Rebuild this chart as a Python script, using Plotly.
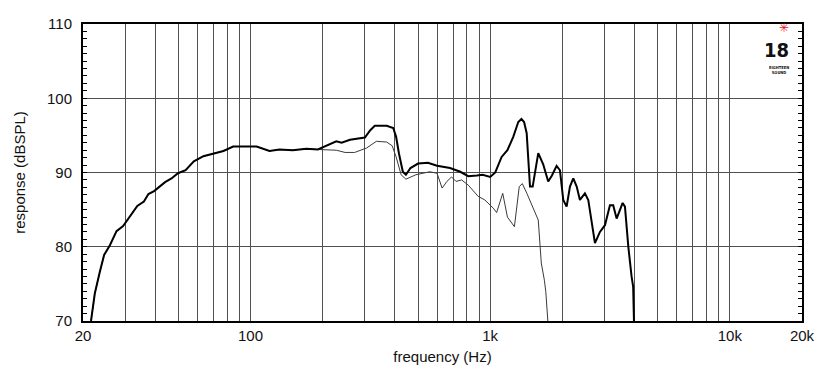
import plotly.graph_objects as go

# Thick curve (on-axis response)
freq_a = [21.6, 22.4, 23.5, 24.5, 25.9, 27.6, 29.4, 31.0, 33.7, 35.9, 37.5, 39.6, 44.0, 46.8,
          49.8, 53.6, 58.0, 63.6, 70.0, 77.1, 84.6, 93.3, 106, 120, 132, 150, 171, 191, 211,
          228, 240, 260, 300, 316, 330, 370, 394, 405, 416, 432, 445, 465, 500, 550, 600, 680,
          750, 810, 880, 930, 1000, 1050, 1116, 1180, 1248, 1310, 1350, 1385, 1420, 1466,
          1504, 1587, 1664, 1746, 1810, 1893, 1955, 2018, 2084, 2152, 2222, 2296, 2368, 2485,
          2566, 2736, 2870, 3012, 3160, 3260, 3370, 3570, 3650, 3770, 3890, 3950, 3980]
spl_a = [70.0, 73.7, 76.6, 78.9, 80.2, 82.1, 82.8, 83.8, 85.5, 86.1, 87.1, 87.5, 88.7, 89.2,
         89.9, 90.3, 91.5, 92.2, 92.6, 92.9, 93.5, 93.5, 93.5, 92.9, 93.1, 93.0, 93.2, 93.1, 93.7,
         94.2, 94.0, 94.4, 94.7, 95.7, 96.3, 96.3, 96.0, 94.8, 92.6, 90.1, 89.7, 90.6, 91.2, 91.3,
         90.9, 90.6, 90.1, 89.5, 89.6, 89.7, 89.4, 90.0, 92.1, 93.0, 94.8, 96.8, 97.2, 96.8, 95.3,
         88.1, 88.1, 92.6, 91.1, 88.8, 89.6, 90.9, 90.3, 86.3, 85.4, 88.1, 89.2, 88.1, 86.3, 87.2,
         86.3, 80.5, 82.0, 82.9, 85.6, 85.6, 83.8, 85.9, 85.4, 80.0, 76.0, 74.6, 70.0]

# Thin curve (off-axis response)
freq_b = [21.6, 22.4, 23.5, 24.5, 25.9, 27.6, 29.4, 31.0, 33.7, 35.9, 37.5, 39.6, 44.0, 46.8,
          49.8, 53.6, 58.0, 63.6, 70.0, 77.1, 84.6, 93.3, 106, 120, 132, 150, 171, 191, 200,
          228, 248, 272, 305, 335, 370, 390, 405, 425, 445, 490, 560, 600, 630, 660, 690, 720,
          760, 810, 890, 950, 1030, 1064, 1128, 1180, 1262, 1322, 1362, 1422, 1587, 1634, 1683,
          1706, 1740]
spl_b = [70.0, 73.7, 76.6, 78.9, 80.2, 82.1, 82.8, 83.8, 85.5, 86.1, 87.1, 87.5, 88.7, 89.2,
         89.9, 90.3, 91.5, 92.2, 92.6, 92.9, 93.5, 93.5, 93.5, 92.9, 93.1, 93.0, 93.2, 93.1, 93.1,
         93.0, 92.7, 92.7, 93.3, 94.2, 94.1, 93.6, 92.1, 89.7, 89.1, 89.7, 90.1, 89.9, 87.9, 88.8,
         89.4, 88.8, 89.0, 88.3, 86.8, 86.3, 85.2, 84.6, 87.2, 84.0, 82.7, 88.1, 88.5, 87.2, 83.6,
         77.8, 75.5, 74.0, 70.0]

grid_freqs = [20, 30, 40, 50, 60, 70, 80, 90, 100, 200, 300, 400, 500, 600, 700, 800, 900,
              1000, 2000, 3000, 4000, 5000, 6000, 7000, 8000, 9000, 10000, 20000]
freq_labels = {20: "20", 100: "100", 1000: "1k", 10000: "10k", 20000: "20k"}
y_ticks = [70, 80, 90, 100, 110]

fig = go.Figure()
fig.add_trace(go.Scatter(x=freq_b, y=spl_b, mode="lines",
                         line=dict(color="#3a3a3a", width=1), showlegend=False, hoverinfo="skip"))
fig.add_trace(go.Scatter(x=freq_a, y=spl_a, mode="lines",
                         line=dict(color="#000000", width=2), showlegend=False))
# carrier for the right-hand tick axis
fig.add_trace(go.Scatter(x=[freq_a[0]], y=[spl_a[0]], yaxis="y2", mode="markers",
                         marker=dict(opacity=0), showlegend=False, hoverinfo="skip"))

FONT = "Liberation Sans, Arial, sans-serif"
tick_common = dict(ticks="inside", ticklen=4, tickcolor="black", tickwidth=1,
                   minor=dict(dtick=1, ticks="inside", ticklen=4, tickcolor="black",
                              tickwidth=1, showgrid=False))
fig.update_layout(
    width=830, height=390,
    margin=dict(l=83, r=28, t=24, b=69),
    paper_bgcolor="white", plot_bgcolor="white",
    font=dict(family=FONT, size=15, color="#111"),
    xaxis=dict(type="log", range=[1.30103, 4.30103],
               tickvals=grid_freqs,
               ticktext=[freq_labels.get(f, "") for f in grid_freqs],
               showgrid=True, gridcolor="#505050", gridwidth=1.2,
               showline=True, linecolor="black", linewidth=2, mirror=True,
               ticks="", zeroline=False,
               title=dict(text="frequency (Hz)", font=dict(size=15), standoff=8)),
    yaxis=dict(range=[70, 110], tickvals=y_ticks,
               showgrid=True, gridcolor="#505050", gridwidth=1.2,
               showline=True, linecolor="black", linewidth=2, mirror=True,
               ticklabelstandoff=6, zeroline=False,
               title=dict(text="response (dBSPL)", font=dict(size=15), standoff=18),
               **tick_common),
    yaxis2=dict(range=[70, 110], tickvals=y_ticks, overlaying="y", side="right",
                showgrid=False, showline=False, showticklabels=False, zeroline=False,
                **tick_common),
)

# logo
fig.add_annotation(xref="paper", yref="paper", x=0.983, y=0.9596, yanchor="bottom",
                   text="✳", showarrow=False, borderpad=0,
                   font=dict(color="#e8202a", size=12))
fig.add_annotation(xref="paper", yref="paper", x=0.983, y=0.955, yanchor="top",
                   text="<b>18</b>", showarrow=False, borderpad=0,
                   font=dict(family="DejaVu Sans Condensed", size=20, color="#111"))
fig.add_annotation(xref="paper", yref="paper", x=0.983, y=0.8653, yanchor="top",
                   text="<b>EIGHTEEN<br>SOUND</b>", showarrow=False, borderpad=0,
                   font=dict(family="DejaVu Sans Condensed", size=4, color="#111"))

fig.write_html("out.html")
